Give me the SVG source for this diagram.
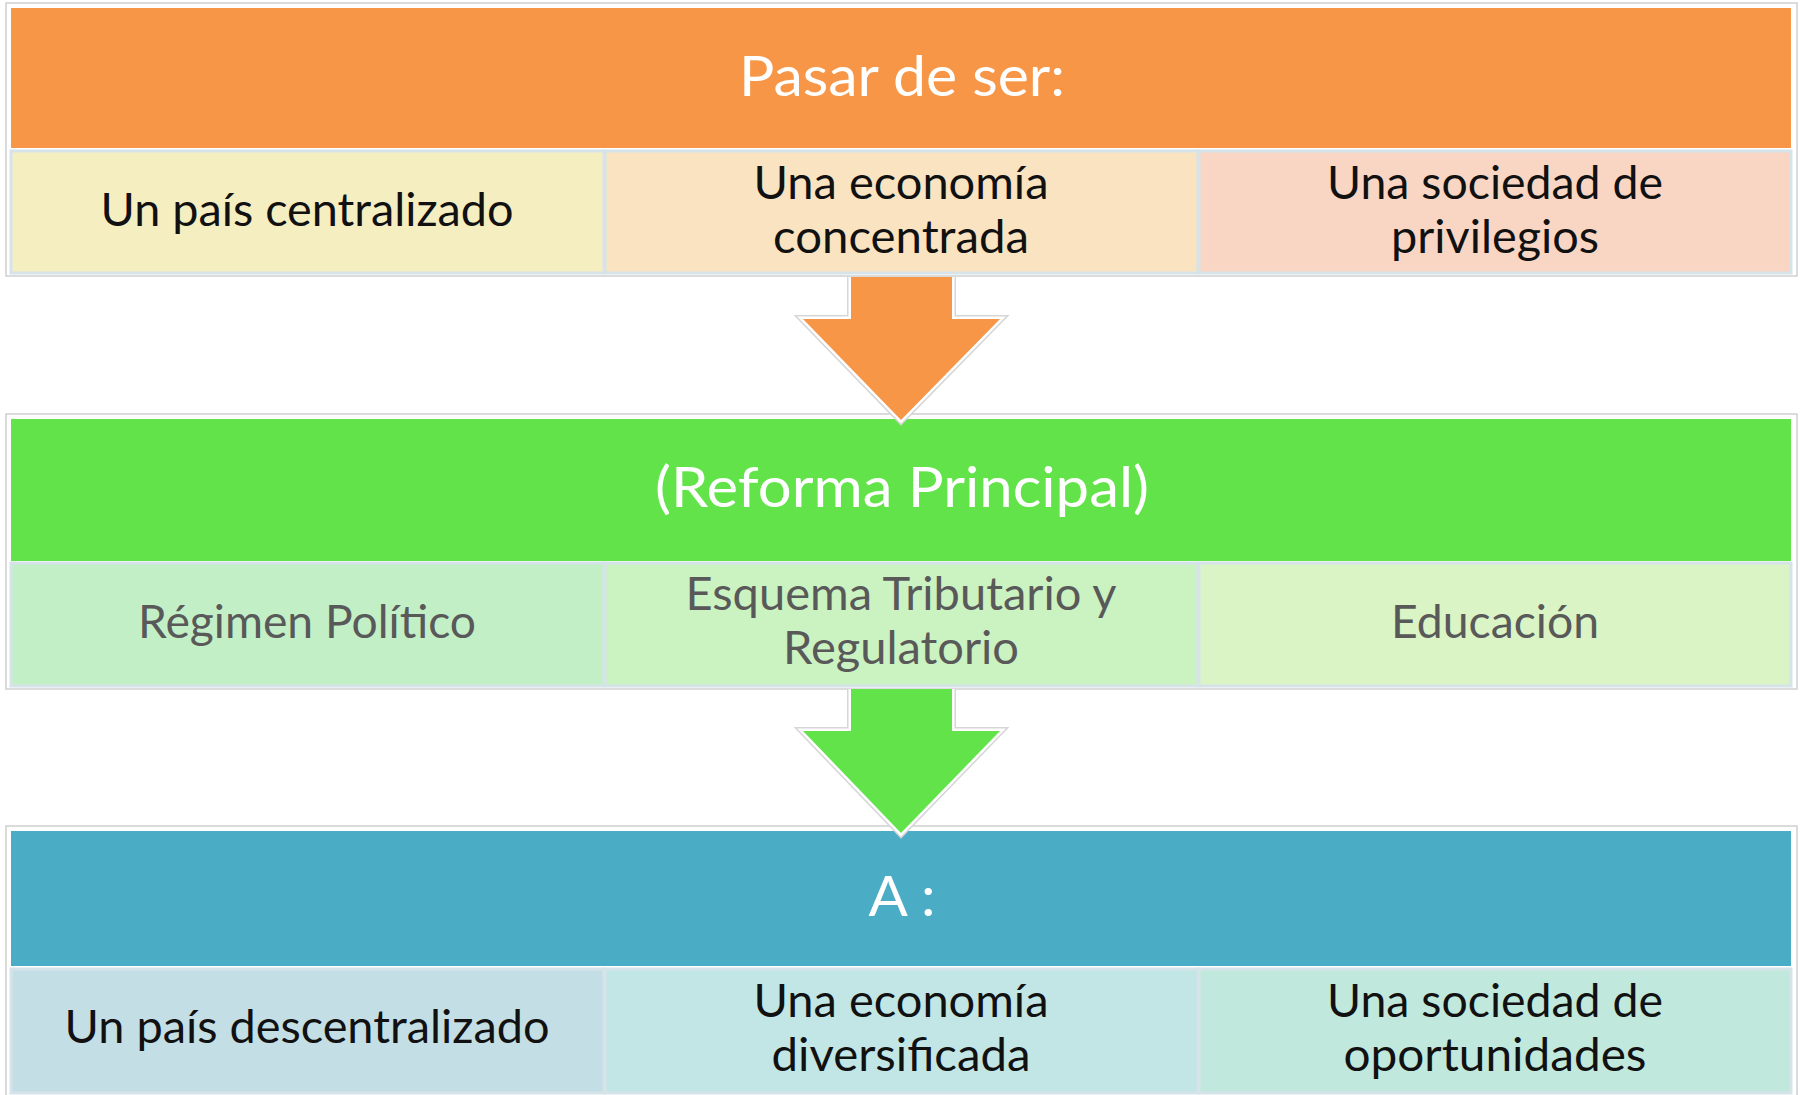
<svg xmlns="http://www.w3.org/2000/svg" width="1800" height="1095" viewBox="0 0 1800 1095">
<style>
.frame{fill:#fff;stroke:#d0d0d0;stroke-width:1.5}
.cell{stroke:#d6e3e9;stroke-width:3}
.t{font-family:Lato,"Liberation Sans",sans-serif;font-size:46px;text-anchor:middle}
.dark{fill:#111}
.gray{fill:#595959}
.title{font-family:Lato,"Liberation Sans",sans-serif;font-size:57px;text-anchor:middle;fill:#fff}
.aout{fill:none;stroke:#d6d6d6;stroke-width:8;stroke-linejoin:miter}
.ain{fill:none;stroke:#fff;stroke-width:5;stroke-linejoin:miter}
</style>
<rect width="1800" height="1095" fill="#fff"/>

<g id="sec-pasar">
  <rect class="frame" x="6" y="3" width="1791" height="273"/>
  <rect x="11" y="8" width="1780" height="140" fill="#f79646"/>
  <text class="title" x="902" y="96" textLength="326" lengthAdjust="spacingAndGlyphs">Pasar de ser:</text>
</g>
<g id="n-centralizado">
  <rect class="cell" x="11" y="151" width="593" height="122" fill="#f5eec1"/>
  <text class="t dark" x="307" y="226" textLength="413" lengthAdjust="spacingAndGlyphs">Un país centralizado</text>
</g>
<g id="n-concentrada">
  <rect class="cell" x="605" y="151" width="593" height="122" fill="#f9e3c0"/>
  <text class="t dark" x="901" y="199" textLength="295" lengthAdjust="spacingAndGlyphs">Una economía</text>
  <text class="t dark" x="901" y="253" textLength="256" lengthAdjust="spacingAndGlyphs">concentrada</text>
</g>
<g id="n-privilegios">
  <rect class="cell" x="1199" y="151" width="592" height="122" fill="#f9d6c3"/>
  <text class="t dark" x="1495" y="199" textLength="336" lengthAdjust="spacingAndGlyphs">Una sociedad de</text>
  <text class="t dark" x="1495" y="253" textLength="208" lengthAdjust="spacingAndGlyphs">privilegios</text>
</g>

<g id="sec-reforma">
  <rect class="frame" x="6" y="414" width="1791" height="275"/>
  <rect x="11" y="419" width="1780" height="142" fill="#62e34a"/>
  <text class="title" x="902" y="507" textLength="494" lengthAdjust="spacingAndGlyphs">(Reforma Principal)</text>
</g>
<g id="n-regimen">
  <rect class="cell" x="11" y="563" width="593" height="123" fill="#c3efc7"/>
  <text class="t gray" x="307" y="638" textLength="338" lengthAdjust="spacingAndGlyphs">Régimen Político</text>
</g>
<g id="n-tributario">
  <rect class="cell" x="605" y="563" width="593" height="123" fill="#cbf2c1"/>
  <text class="t gray" x="901" y="610" textLength="431" lengthAdjust="spacingAndGlyphs">Esquema Tributario y</text>
  <text class="t gray" x="901" y="664" textLength="236" lengthAdjust="spacingAndGlyphs">Regulatorio</text>
</g>
<g id="n-educacion">
  <rect class="cell" x="1199" y="563" width="592" height="123" fill="#daf4c5"/>
  <text class="t gray" x="1495" y="638" textLength="208" lengthAdjust="spacingAndGlyphs">Educación</text>
</g>

<g id="sec-a">
  <rect class="frame" x="6" y="826" width="1791" height="272"/>
  <rect x="11" y="831" width="1780" height="135" fill="#4bacc6"/>
  <text class="title" x="902" y="916" textLength="67" lengthAdjust="spacingAndGlyphs">A :</text>
</g>
<g id="n-descentralizado">
  <rect class="cell" x="11" y="969" width="593" height="124" fill="#c4dee6"/>
  <text class="t dark" x="307" y="1043" textLength="485" lengthAdjust="spacingAndGlyphs">Un país descentralizado</text>
</g>
<g id="n-diversificada">
  <rect class="cell" x="605" y="969" width="593" height="124" fill="#c2e6e5"/>
  <text class="t dark" x="901" y="1017" textLength="295" lengthAdjust="spacingAndGlyphs">Una economía</text>
  <text class="t dark" x="901" y="1071" textLength="259" lengthAdjust="spacingAndGlyphs">diversificada</text>
</g>
<g id="n-oportunidades">
  <rect class="cell" x="1199" y="969" width="592" height="124" fill="#c1e8dd"/>
  <text class="t dark" x="1495" y="1017" textLength="336" lengthAdjust="spacingAndGlyphs">Una sociedad de</text>
  <text class="t dark" x="1495" y="1071" textLength="303" lengthAdjust="spacingAndGlyphs">oportunidades</text>
</g>

<g id="connectors">
  <g id="arrow1">
    <path class="aout" d="M851,277 V319 H803 L901,420 L1000,319 H952 V277"/>
    <path class="ain" d="M851,277 V319 H803 L901,420 L1000,319 H952 V277"/>
    <polygon points="851,277 851,319 803,319 901,420 1000,319 952,319 952,277" fill="#f79646"/>
  </g>
  <g id="arrow2">
    <path class="aout" d="M851,689 V731 H803 L901,833 L1000,731 H952 V689"/>
    <path class="ain" d="M851,689 V731 H803 L901,833 L1000,731 H952 V689"/>
    <polygon points="851,689 851,731 803,731 901,833 1000,731 952,731 952,689" fill="#62e34a"/>
  </g>
</g>
</svg>
